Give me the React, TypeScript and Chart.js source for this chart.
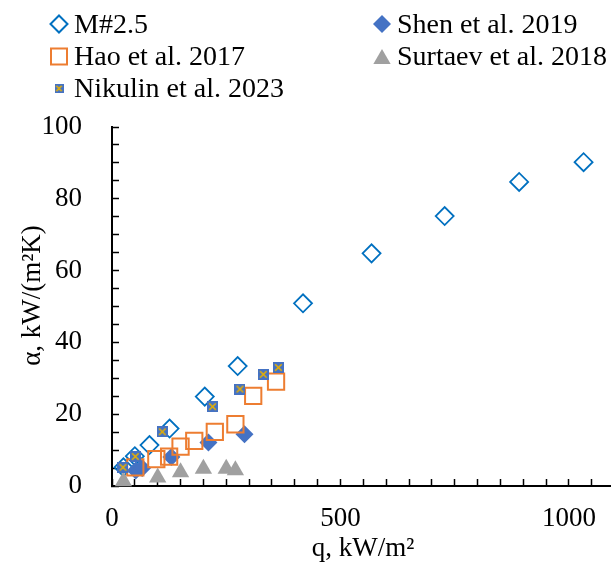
import React, { useEffect, useRef } from "react";
import { Chart, registerables } from "chart.js";

Chart.register(...registerables);

// ---- data: heat flux q (kW/m²) and heat transfer coefficient α (kW/(m²K)) ----
const m25Q = [25, 50, 82, 126, 203, 275, 418, 568, 728, 891, 1032];
const m25A = [5.2, 8.3, 11.4, 16.0, 24.9, 33.4, 50.9, 64.8, 75.2, 84.7, 90.2];

const shenQ = [52, 66, 130, 211, 290];
const shenA = [4.3, 5.0, 8.1, 12.1, 14.4];

const haoQ = [51, 97, 125, 150, 180, 225, 270, 309, 359];
const haoA = [5.2, 7.5, 8.2, 11.0, 12.6, 15.1, 17.2, 25.1, 29.1];

const surtaevQ = [25, 100, 150, 200, 250, 270];
const surtaevA = [1.3, 2.4, 3.8, 4.8, 4.8, 4.4];

const nikulinQ = [24, 51, 110, 220, 280, 331, 364];
const nikulinA = [5.2, 8.2, 15.1, 22.1, 27.0, 31.1, 33.0];

const seriesNames = ["M#2.5", "Shen et al. 2019", "Hao et al. 2017", "Surtaev et al. 2018", "Nikulin et al. 2023"];

// axis ticks
const xLabelTicks = [0, 500, 1000];
const xMinorStep = 50;
const xMax = 1092;
const yLabelTicks = [0, 20, 40, 60, 80, 100];
const yMinorStep = 5;

const xTitle = "q, kW/m\u00B2";
const yTitle = "\u03B1, kW/(m\u00B2K)";

const COLORS = {
  m25: "#0070C0",
  shen: "#4472C4",
  hao: "#ED7D31",
  surtaev: "#A0A0A0",
  nikBlue: "#4472C4",
  nikX: "#E8B000",
};

const FONT = '"Liberation Serif", "Times New Roman", serif';

function toPoints(q: number[], a: number[]) {
  return q.map((x, i) => ({ x, y: a[i] }));
}

function range(step: number, max: number) {
  const out: number[] = [];
  for (let v = 0; v <= max + 1e-9; v += step) out.push(v);
  return out;
}

// blue square with a yellow cross
function makeCrossSquare(size: number): HTMLCanvasElement {
  const c = document.createElement("canvas");
  c.width = size;
  c.height = size;
  const ctx = c.getContext("2d")!;
  ctx.fillStyle = COLORS.nikBlue;
  ctx.fillRect(0, 0, size, size);
  ctx.strokeStyle = COLORS.nikX;
  ctx.lineWidth = 1.6;
  const p = size * 0.2;
  ctx.beginPath();
  ctx.moveTo(p, p);
  ctx.lineTo(size - p, size - p);
  ctx.moveTo(size - p, p);
  ctx.lineTo(p, size - p);
  ctx.stroke();
  return c;
}

function diamond(ctx: CanvasRenderingContext2D, x: number, y: number, r: number) {
  ctx.beginPath();
  ctx.moveTo(x, y - r);
  ctx.lineTo(x + r, y);
  ctx.lineTo(x, y + r);
  ctx.lineTo(x - r, y);
  ctx.closePath();
}

function triangle(ctx: CanvasRenderingContext2D, x: number, y: number, r: number) {
  ctx.beginPath();
  for (let k = 0; k < 3; k++) {
    const ang = (k * 2 * Math.PI) / 3;
    const px = x + Math.sin(ang) * r;
    const py = y - Math.cos(ang) * r;
    if (k === 0) ctx.moveTo(px, py);
    else ctx.lineTo(px, py);
  }
  ctx.closePath();
}

// legend in two columns plus axis titles
const decorPlugin = {
  id: "decor",
  afterDraw(chart: Chart) {
    const ctx = chart.ctx;
    const area = chart.chartArea;
    ctx.save();
    ctx.fillStyle = "#000";
    ctx.font = `28px ${FONT}`;
    ctx.textAlign = "left";
    ctx.textBaseline = "alphabetic";

    const rows = [24, 56.5, 88.5];
    const baseOff = 8.7;
    const colMark = [59, 382];
    const colText = [74, 397];

    // M#2.5
    ctx.lineWidth = 2;
    ctx.strokeStyle = COLORS.m25;
    diamond(ctx, colMark[0], rows[0], 8.5);
    ctx.stroke();
    ctx.fillText(seriesNames[0], colText[0], rows[0] + baseOff);

    // Shen
    ctx.fillStyle = COLORS.shen;
    diamond(ctx, colMark[1], rows[0], 9);
    ctx.fill();
    ctx.fillStyle = "#000";
    ctx.fillText(seriesNames[1], colText[1], rows[0] + baseOff);

    // Hao
    ctx.strokeStyle = COLORS.hao;
    ctx.strokeRect(colMark[0] - 8, rows[1] - 8, 16, 16);
    ctx.fillText(seriesNames[2], colText[0], rows[1] + baseOff);

    // Surtaev
    ctx.fillStyle = COLORS.surtaev;
    triangle(ctx, colMark[1], rows[1] + 2.5, 10);
    ctx.fill();
    ctx.fillStyle = "#000";
    ctx.fillText(seriesNames[3], colText[1], rows[1] + baseOff);

    // Nikulin
    const small = makeCrossSquare(9);
    ctx.drawImage(small, colMark[0] - 4.5, rows[2] - 4.5);
    ctx.fillText(seriesNames[4], colText[0], rows[2] + baseOff);

    // axis titles
    ctx.font = `27px ${FONT}`;
    ctx.textAlign = "center";
    ctx.fillText(xTitle, 363, 556);

    ctx.translate(40, (area.top + area.bottom) / 2 - 11);
    ctx.rotate(-Math.PI / 2);
    ctx.fillText(yTitle, 0, 0);
    ctx.restore();
  },
};

export default function App() {
  const canvasRef = useRef<HTMLCanvasElement | null>(null);

  useEffect(() => {
    if (!canvasRef.current) return;
    const nikulinMark = makeCrossSquare(11);

    const tickFont = { family: FONT, size: 27 };

    const chart = new Chart(canvasRef.current, {
      type: "scatter",
      data: {
        // drawn from last to first, so the first entry ends up on top
        datasets: [
          {
            label: seriesNames[4],
            data: toPoints(nikulinQ, nikulinA),
            pointStyle: nikulinMark as any,
            pointRadius: 5.5,
            clip: false as any,
          },
          {
            label: seriesNames[3],
            data: toPoints(surtaevQ, surtaevA),
            pointStyle: "triangle",
            pointRadius: 10,
            pointBackgroundColor: COLORS.surtaev,
            pointBorderColor: COLORS.surtaev,
            pointBorderWidth: 0,
            clip: false as any,
          },
          {
            label: seriesNames[2],
            data: toPoints(haoQ, haoA),
            pointStyle: "rect",
            pointRadius: 11.5,
            pointBackgroundColor: "rgba(0,0,0,0)",
            pointBorderColor: COLORS.hao,
            pointBorderWidth: 2,
            clip: false as any,
          },
          {
            label: seriesNames[1],
            data: toPoints(shenQ, shenA),
            pointStyle: "rectRot",
            pointRadius: 9,
            pointBackgroundColor: COLORS.shen,
            pointBorderColor: COLORS.shen,
            pointBorderWidth: 0,
            clip: false as any,
          },
          {
            label: seriesNames[0],
            data: toPoints(m25Q, m25A),
            pointStyle: "rectRot",
            pointRadius: 9,
            pointBackgroundColor: "rgba(0,0,0,0)",
            pointBorderColor: COLORS.m25,
            pointBorderWidth: 1.8,
            clip: false as any,
          },
        ],
      },
      options: {
        animation: false,
        responsive: true,
        maintainAspectRatio: false,
        devicePixelRatio: 1,
        events: [],
        layout: { autoPadding: false, padding: { top: 127, left: 0, right: 0, bottom: 0 } },
        plugins: {
          legend: { display: false },
          tooltip: { enabled: false },
        },
        scales: {
          x: {
            type: "linear",
            min: 0,
            max: xMax,
            border: { display: true, color: "#000", width: 2 },
            grid: {
              drawOnChartArea: false,
              drawTicks: true,
              tickLength: -7,
              tickWidth: 1.5,
              tickColor: "#000",
            },
            ticks: {
              autoSkip: false,
              maxRotation: 0,
              padding: 24,
              color: "#000",
              font: tickFont,
              callback: (v: any) => (xLabelTicks.includes(Number(v)) ? String(v) : ""),
            },
            afterBuildTicks: (s: any) => {
              s.ticks = range(xMinorStep, xMax).map((value) => ({ value }));
            },
            afterFit: (s: any) => {
              s.height = 85;
              s.paddingLeft = 0;
              s.paddingRight = 0;
            },
          },
          y: {
            type: "linear",
            min: 0,
            max: 100,
            border: { display: true, color: "#000", width: 2 },
            grid: {
              drawOnChartArea: false,
              drawTicks: true,
              tickLength: -7,
              tickWidth: 1.5,
              tickColor: "#000",
            },
            ticks: {
              autoSkip: false,
              padding: 37,
              color: "#000",
              font: tickFont,
              callback: (v: any) => (yLabelTicks.includes(Number(v)) ? String(v) : ""),
            },
            afterBuildTicks: (s: any) => {
              s.ticks = range(yMinorStep, 100).map((value) => ({ value }));
            },
            afterFit: (s: any) => {
              s.width = 112;
            },
          },
        },
      },
      plugins: [decorPlugin],
    });

    return () => chart.destroy();
  }, []);

  return (
    <div
      style={{
        position: "absolute",
        left: 0,
        top: 0,
        width: 611,
        height: 571,
        overflow: "hidden",
        background: "#fff",
      }}
    >
      <canvas ref={canvasRef} style={{ display: "block" }} />
    </div>
  );
}
